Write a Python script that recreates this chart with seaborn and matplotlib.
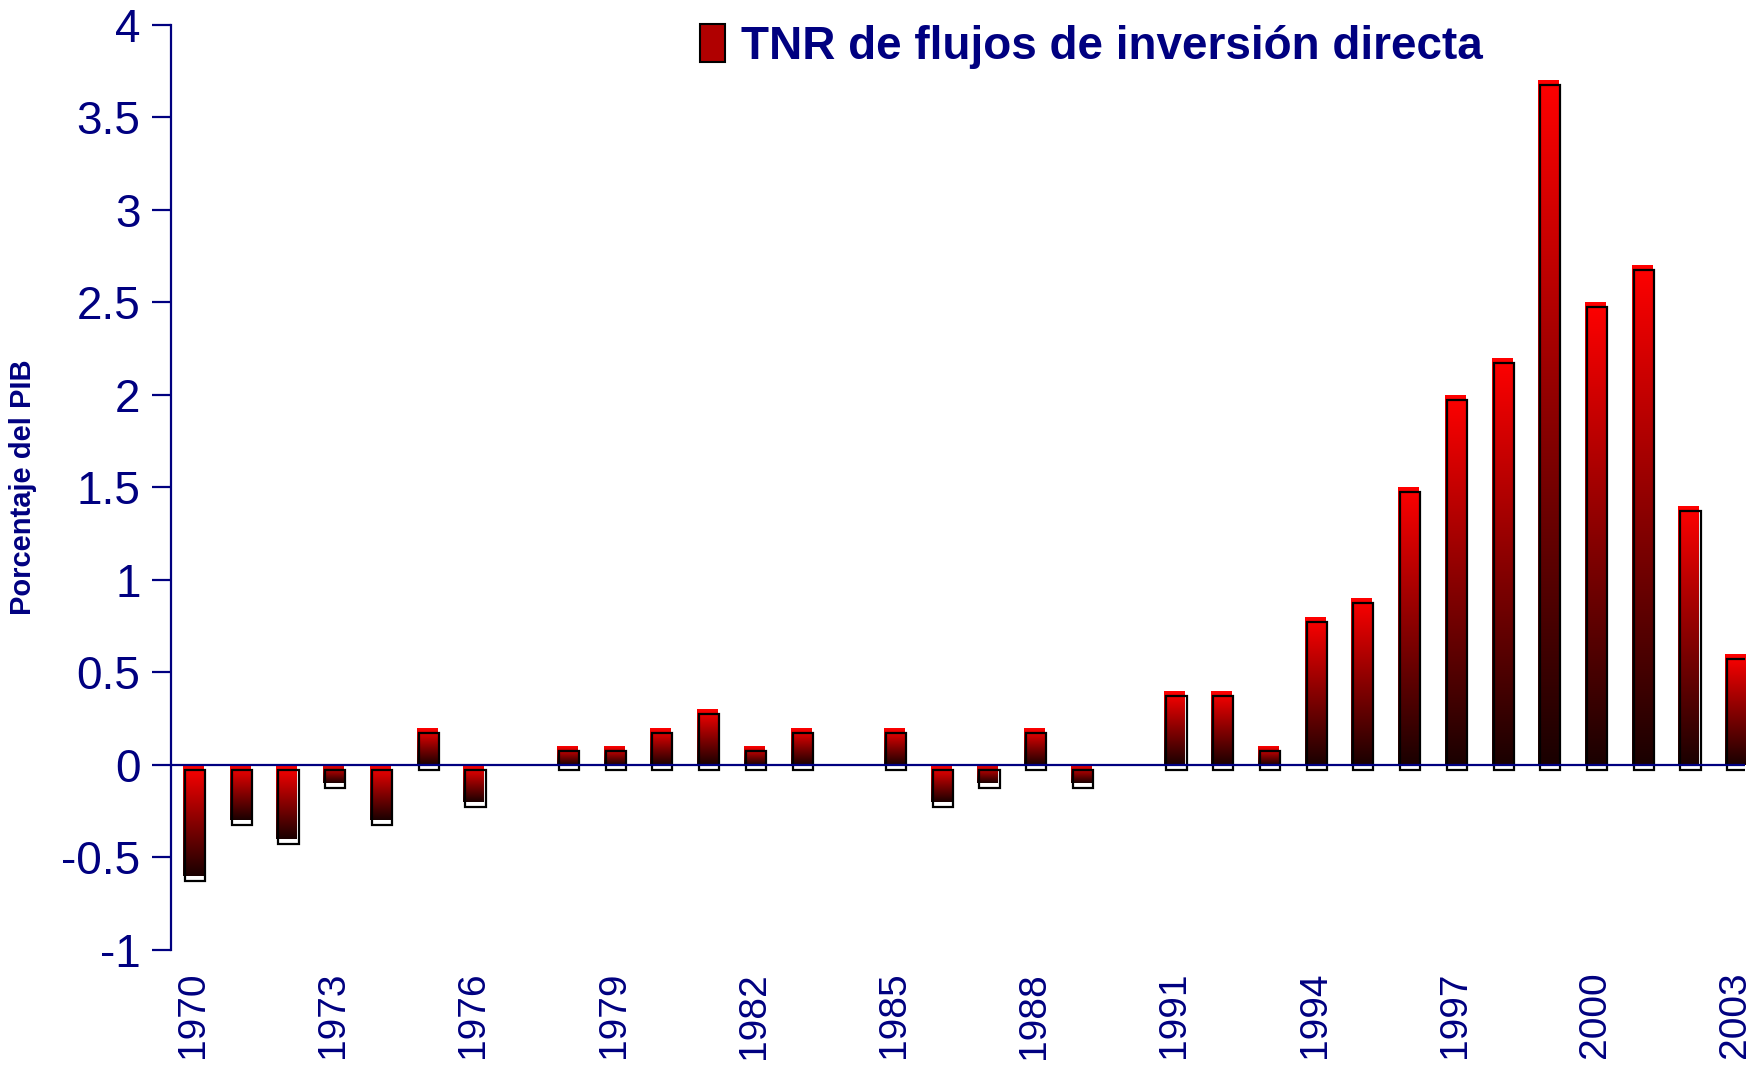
import numpy as np
import pandas as pd
import seaborn as sns
from matplotlib import pyplot as plt
from matplotlib import transforms
from matplotlib.colors import LinearSegmentedColormap
from matplotlib.patches import Rectangle, Patch

years = list(range(1970, 2004))
values = [-0.6, -0.3, -0.4, -0.1, -0.3, 0.2, -0.2, 0.0, 0.1, 0.1,
          0.2, 0.3, 0.1, 0.2, 0.0, 0.2, -0.2, -0.1, 0.2, -0.1,
          0.0, 0.4, 0.4, 0.1, 0.8, 0.9, 1.5, 2.0, 2.2, 3.7,
          2.5, 2.7, 1.4, 0.6]
series_name = "TNR de flujos de inversión directa"
y_label = "Porcentaje del PIB"

navy = "#000080"

sns.set_theme(style="white")
plt.rcParams["font.family"] = ["Liberation Sans", "DejaVu Sans"]

df = pd.DataFrame({"Año": [str(y) for y in years], "Valor": values})

fig = plt.figure(figsize=(17.64, 10.73), dpi=100)
ax = fig.add_axes([0.097, 0.115, 0.892, 0.862])

sns.barplot(data=df, x="Año", y="Valor", color="red", width=0.43,
            saturation=1, ax=ax)

cmap = LinearSegmentedColormap.from_list("rojo", ["#1a0000", "#8a0000", "#ff0000"])
grad = np.linspace(0, 1, 256).reshape(-1, 1)
shift = transforms.ScaledTranslation(2 / 100, -5 / 100, fig.dpi_scale_trans)
for p in list(ax.patches):
    x0, y0 = p.get_x(), p.get_y()
    w, h = p.get_width(), p.get_height()
    if h == 0:
        continue
    ymin, ymax = min(y0, y0 + h), max(y0, y0 + h)
    p.set_facecolor("none")
    p.set_edgecolor("none")
    im = ax.imshow(grad, cmap=cmap, origin="lower", aspect="auto",
                   extent=[x0, x0 + w, ymin, ymax], zorder=2)
    im.set_clip_path(p)
    outline = Rectangle((x0, ymin), w, ymax - ymin, fill=False,
                        edgecolor="black", lw=1.6, zorder=3,
                        transform=ax.transData + shift)
    ax.add_patch(outline)

ax.axhline(0, color=navy, lw=1.6, zorder=4)
ax.set_xlim(-0.47, 33.2)
ax.set_ylim(-1, 4)
ax.set_yticks(np.arange(-1, 4.01, 0.5))
ax.set_yticklabels(["-1", "-0.5", "0", "0.5", "1", "1.5", "2", "2.5", "3", "3.5", "4"])
ax.set_xticks(range(0, 34, 3))
ax.set_xticklabels([str(y) for y in years[::3]], rotation=90)

for side in ["top", "right", "bottom"]:
    ax.spines[side].set_visible(False)
ax.spines["left"].set_color(navy)
ax.spines["left"].set_linewidth(1.6)

ax.tick_params(axis="y", left=True, length=14, width=1.6, color=navy,
               labelcolor=navy, labelsize=33, pad=8)
ax.tick_params(axis="x", length=0, labelcolor=navy, labelsize=28, pad=16)

ax.set_xlabel("")
ax.set_ylabel(y_label, color=navy, fontsize=21, fontweight="bold")
ax.yaxis.set_label_coords(-0.085, 0.5)

handle = Patch(facecolor="#b00000", edgecolor="black", lw=1.5)
leg = ax.legend([handle], [series_name], loc="upper left",
                bbox_to_anchor=(0.31, 1.045), frameon=False,
                handlelength=0.55, handleheight=0.9, handletextpad=0.35,
                prop={"size": 33, "weight": "bold"})
for t in leg.get_texts():
    t.set_color(navy)

fig.savefig("out.png", dpi=100)
